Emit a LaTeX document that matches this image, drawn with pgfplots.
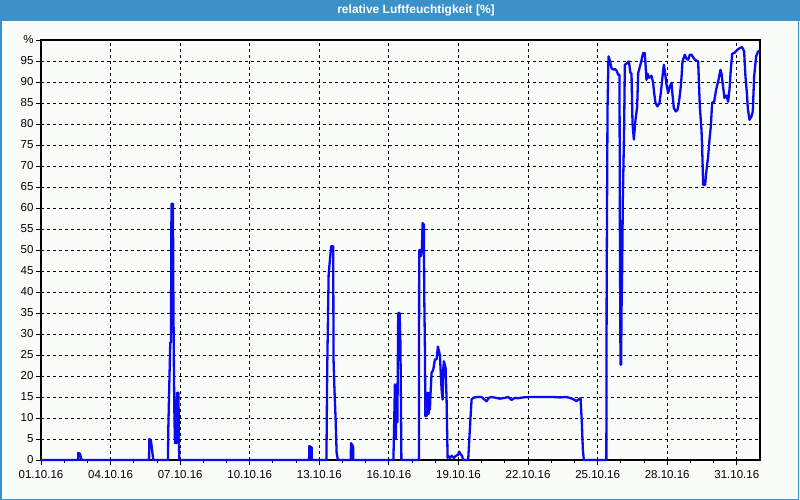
\documentclass[border=0pt]{standalone}
\usepackage{pgfplots}
\pgfplotsset{compat=1.18}
\usepackage{fontspec}
\setmainfont{Liberation Sans}
\definecolor{barblue}{RGB}{60,145,200}
\definecolor{bgc}{RGB}{250,252,250}
\definecolor{lineblue}{RGB}{10,10,240}
\begin{document}
\begin{tikzpicture}
\useasboundingbox (0,0) rectangle (800bp,500bp);
\fill[bgc] (0,0) rectangle (800bp,500bp);
\fill[barblue] (0,479.3bp) rectangle (800bp,500bp);
\draw[barblue, line width=1.5bp] (0.75bp,0.75bp) rectangle (798.5bp,499bp);
\node[white, font=\fontsize{12bp}{14bp}\selectfont\bfseries] at (416bp,489.6bp) {relative Luftfeuchtigkeit [\%]};
\begin{axis}[
  at={(41bp,40bp)}, anchor=south west,
  scale only axis, width=719bp, height=420bp,
  xmin=1, xmax=32, ymin=0, ymax=100,
  axis background/.style={fill=bgc},
  axis line style={black, line width=1.2bp},
  tick pos=left, tick align=outside,
  major tick length=5bp, minor tick length=3bp,
  every tick/.style={black, line width=0.9bp},
  xtick={1,4,...,31},
  xticklabels={01.10.16,04.10.16,07.10.16,10.10.16,13.10.16,16.10.16,19.10.16,22.10.16,25.10.16,28.10.16,31.10.16},
  minor x tick num=2,
  ytick={0,5,...,100},
  yticklabels={0,5,10,15,20,25,30,35,40,45,50,55,60,65,70,75,80,85,90,95,\%},
  ticklabel style={font=\fontsize{11.5bp}{13bp}\selectfont},
  xticklabel style={yshift=-2bp},
  yticklabel style={xshift=1bp},
  /pgf/number format/assume math mode=true,
  xmajorgrids, ymajorgrids,
  major grid style={black, line width=0.9bp, dash pattern=on 3bp off 3bp},
  clip=false,
]
\addplot[lineblue, line width=2.3bp, line join=round] coordinates {
(1,0) (2.60,0) (2.608,1.7) (2.68,1.5) (2.72,0.6) (2.754,0)
(5.66,0) (5.668,5.0) (5.741,4.6) (5.797,2) (5.841,0)
(6.474,0) (6.487,7) (6.530,17.5) (6.573,28) (6.603,28) (6.625,61) (6.690,61) (6.703,42) (6.733,20) (6.754,10) (6.776,4) (6.819,10) (6.841,4) (6.862,16) (6.927,16) (6.940,8) (6.961,0)
(12.56,0) (12.565,3.3) (12.668,3.0) (12.67,0)
(13.306,0) (13.341,22) (13.401,44) (13.457,47.7) (13.513,50.9) (13.599,50.9) (13.612,24) (13.651,17) (13.703,9.6) (13.746,1.7) (13.802,0)
(14.36,0) (14.362,4) (14.42,3.6) (14.461,3) (14.465,0)
(16.194,0) (16.228,9) (16.259,18) (16.302,5) (16.323,18) (16.366,9) (16.401,35) (16.461,35) (16.496,28) (16.517,15) (16.539,0)
(17.293,0) (17.306,50) (17.358,50) (17.379,48.5) (17.422,50) (17.453,56.4) (17.509,56) (17.522,40) (17.552,27) (17.573,10.4) (17.616,16) (17.638,10.5) (17.681,16) (17.711,11) (17.746,16) (17.767,12) (17.797,16) (17.841,20.8) (17.909,21.4) (17.983,23.9) (18.056,24) (18.112,27) (18.155,26) (18.198,25) (18.272,16.7) (18.315,14.4) (18.349,22) (18.371,23.5) (18.444,22) (18.487,14.4) (18.530,0.5)
(18.556,1) (18.629,0.5) (18.716,1) (18.802,0.5) (18.888,1) (18.974,1.2) (19.030,2) (19.082,1.5) (19.147,1) (19.211,0) (19.418,0) (19.461,4.4) (19.522,10.4) (19.565,14.4) (19.634,14.8) (19.793,15) (19.996,15) (20.095,14.5) (20.211,14) (20.310,14.8) (20.427,15) (20.612,14.8) (20.784,14.6) (21.0,14.8) (21.142,15) (21.289,14.3) (21.431,14.8) (21.573,14.7) (21.776,14.9) (22.078,15) (22.509,15) (23.082,15) (23.371,14.9) (23.629,15) (23.802,14.8) (23.944,14.5) (24.091,14) (24.190,14.5) (24.263,14.7) (24.319,8.8) (24.362,2.5) (24.405,0)
(25.375,0) (25.389,41.7) (25.425,83.4) (25.468,96.1) (25.526,95.2) (25.597,93.3) (25.669,93) (25.770,93) (25.827,92.6) (25.885,91.7) (25.942,91.7) (25.957,57.2) (25.985,22.7) (26.014,22.7) (26.028,35) (26.057,45.3) (26.086,62) (26.143,79.4) (26.172,94.1) (26.273,94.5) (26.345,94.9) (26.416,92.1) (26.459,92.1) (26.503,80.2) (26.560,76.3) (26.632,81) (26.704,84.2) (26.747,92.1) (26.862,94.5) (26.962,96.9) (27.034,96.9) (27.106,90.5) (27.149,92) (27.221,91) (27.321,91.5) (27.393,89.8) (27.436,87.4) (27.494,85) (27.580,84.2) (27.666,85) (27.724,87.4) (27.781,90.5) (27.853,94.1) (27.911,92) (27.968,89.4) (28.040,87.4) (28.112,89) (28.184,89.8) (28.227,87) (28.284,83.8) (28.370,83) (28.442,83.4) (28.500,85) (28.571,88.2) (28.615,91) (28.658,94.9) (28.758,96.5) (28.830,95.5) (28.902,95.3) (28.974,96.5) (29.046,96.5) (29.189,95.3) (29.333,94.9) (29.405,84.2) (29.477,78.6) (29.506,74.3) (29.549,65.5) (29.635,65.5) (29.678,68.3) (29.764,72.3) (29.822,76.3) (29.879,79.4) (29.937,85.1) (30.023,85.3) (30.109,88.2) (30.195,90.1) (30.296,92.9) (30.339,92.1) (30.396,89.4) (30.468,86.2) (30.554,86.8) (30.626,85.3) (30.684,88.2) (30.741,92.9) (30.799,96.7) (30.913,97) (31.029,97.7) (31.129,98.1) (31.230,98.3) (31.316,97.3) (31.373,91.3) (31.431,87.6) (31.474,83.8) (31.546,81) (31.632,81.8) (31.689,83) (31.747,91.3) (31.833,96.1) (31.919,97.3) (32,97.3)
};
\end{axis}
\end{tikzpicture}
\end{document}
